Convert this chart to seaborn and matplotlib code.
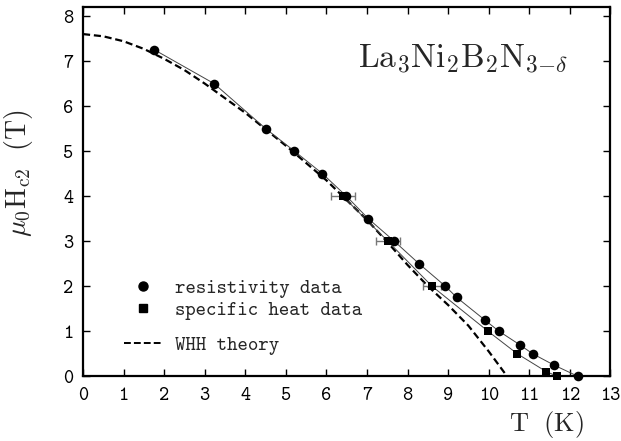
import matplotlib
matplotlib.use('Agg')
import matplotlib.pyplot as plt
import seaborn as sns
import pandas as pd
from matplotlib.lines import Line2D

# ---- data ----
res_T = [1.76, 3.23, 4.50, 5.21, 5.90, 6.49, 7.03, 7.67, 8.28, 8.93, 9.21, 9.90, 10.25, 10.76, 11.08, 11.60, 12.19]
res_H = [7.25, 6.50, 5.50, 5.00, 4.50, 4.00, 3.50, 3.00, 2.50, 2.00, 1.75, 1.25, 1.00, 0.70, 0.50, 0.25, 0.00]

sh_T = [6.40, 7.51, 8.60, 9.98, 10.70, 11.42, 11.69]
sh_H = [4.00, 3.00, 2.00, 1.00, 0.50, 0.10, 0.00]

err_T = [6.40, 7.51, 8.60]
err_H = [4.00, 3.00, 2.00]
err_dT = [0.30, 0.30, 0.22]

whh_T = [0.0, 0.5, 1.0, 1.5, 2.0, 2.5, 3.0, 4.0, 5.0, 6.0, 7.0, 7.5, 8.0, 8.5, 9.0, 9.5, 10.0, 10.45]
whh_H = [7.60, 7.55, 7.44, 7.27, 7.05, 6.80, 6.50, 5.85, 5.12, 4.35, 3.47, 2.98, 2.47, 2.00, 1.58, 1.12, 0.55, 0.00]

x_ticks = list(range(0, 14))
y_ticks = list(range(0, 9))
legend_labels = ['resistivity data', 'specific heat data', 'WHH theory']
compound = r'$\mathrm{La_3Ni_2B_2N_{3{-}\delta}}$'
xlabel = r'$\mathrm{T}\ \ (\mathrm{K})$'
ylabel = r'$\mu_0\mathrm{H}_{\mathrm{c2}}\ \ (\mathrm{T})$'

# ---- style ----
sns.set_style('ticks')
plt.rcParams['font.family'] = ['cmtt10', 'DejaVu Sans']
plt.rcParams['mathtext.fontset'] = 'cm'
plt.rcParams['axes.unicode_minus'] = False

df_res = pd.DataFrame({'T': res_T, 'H': res_H})
df_sh = pd.DataFrame({'T': sh_T, 'H': sh_H})
df_whh = pd.DataFrame({'T': whh_T, 'H': whh_H})

fig = plt.figure(figsize=(6.21, 4.41), dpi=100)
ax = fig.add_axes([0.1337, 0.147, 0.983 - 0.1337, 0.984 - 0.147])

# theory curve
sns.lineplot(data=df_whh, x='T', y='H', ax=ax, sort=False, color='black',
             lw=1.6, linestyle=(0, (3.2, 1.7)), zorder=2)
# thin connecting lines
sns.lineplot(data=df_res, x='T', y='H', ax=ax, sort=False, color='#444444', lw=0.7, zorder=2)
sns.lineplot(data=df_sh, x='T', y='H', ax=ax, sort=False, color='#444444', lw=0.7, zorder=2)

# error bars
ax.errorbar(err_T, err_H, xerr=err_dT, fmt='none', ecolor='#777777',
            elinewidth=1.0, capsize=3, capthick=1.0, zorder=3)

# markers
sns.scatterplot(data=df_res, x='T', y='H', ax=ax, marker='o', s=48, color='black',
                edgecolor='black', linewidth=0, zorder=4, clip_on=False)
sns.scatterplot(data=df_sh, x='T', y='H', ax=ax, marker='s', s=38, color='black',
                edgecolor='black', linewidth=0, zorder=4, clip_on=False)

ax.set_xlim(0, 13)
ax.set_ylim(0, 8.2)
ax.set_xticks(x_ticks)
ax.set_yticks(y_ticks)
ax.tick_params(direction='in', length=5, width=1.0, top=True, right=True,
               labelsize=14, colors='black')
ax.tick_params(axis='x', pad=8)
ax.tick_params(axis='y', pad=7)
for sp in ax.spines.values():
    sp.set_linewidth(1.6)
    sp.set_color('black')

ax.set_xlabel(xlabel, fontsize=19)
ax.set_ylabel(ylabel, fontsize=20)
ax.xaxis.set_label_coords(0.879, -0.088)
ax.yaxis.set_label_coords(-0.092, 0.55)

ax.text(0.72, 0.837, compound, transform=ax.transAxes, ha='center', va='baseline', fontsize=24)

# legend: two marker rows close together, theory row set slightly apart
marker_handles = [
    Line2D([], [], marker='o', ls='none', color='black', ms=6.5),
    Line2D([], [], marker='s', ls='none', color='black', ms=5.8),
]
leg1 = ax.legend(marker_handles, legend_labels[:2], loc='upper left', bbox_to_anchor=(0.063, 0.285),
                 borderaxespad=0, frameon=False, fontsize=14.3, handlelength=1.9,
                 handletextpad=0.68, labelspacing=0.17)
ax.add_artist(leg1)
line_handle = [Line2D([], [], ls=(0, (3.5, 1.6)), color='black', lw=1.4)]
ax.legend(line_handle, legend_labels[2:], loc='upper left', bbox_to_anchor=(0.063, 0.13),
          borderaxespad=0, frameon=False, fontsize=14.3, handlelength=1.9,
          handletextpad=0.68)

fig.savefig('out.png', dpi=100)
